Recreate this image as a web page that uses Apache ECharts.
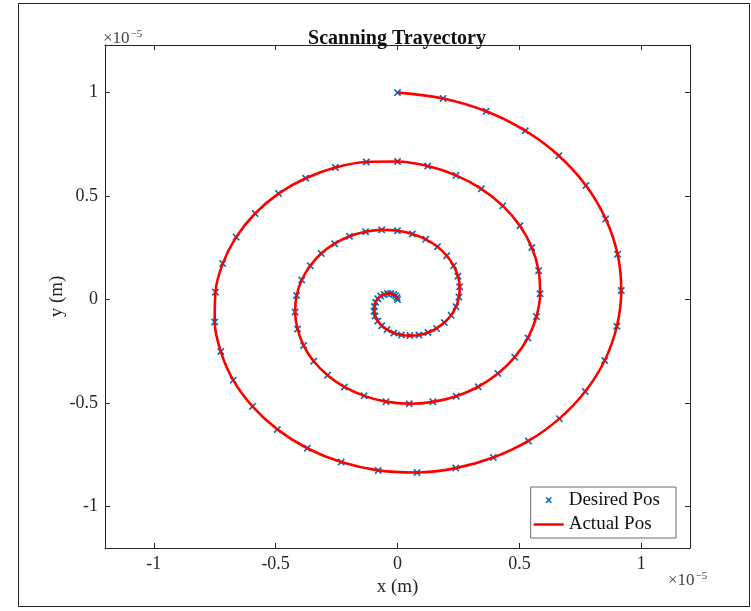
<!DOCTYPE html>
<html>
<head>
<meta charset="utf-8">
<script src="https://cdn.jsdelivr.net/npm/echarts@6/dist/echarts.min.js"></script>
<style>
html,body{margin:0;padding:0;background:#fff;}
#chart{width:751px;height:611px;}
</style>
</head>
<body>
<div id="chart"></div>
<script>
// Values in units of 1e-5 m
const desiredX = [0,0.187,0.364,0.524,0.662,0.773,0.854,0.903,0.918,0.900,0.850,0.770,0.664,0.537,0.393,0.239,0.080,-0.079,-0.231,-0.370,-0.493,-0.595,-0.674,-0.725,-0.750,-0.747,-0.717,-0.662,-0.584,-0.488,-0.377,-0.255,-0.128,
  0,0.124,0.240,0.344,0.432,0.502,0.551,0.579,0.585,0.570,0.535,0.481,0.412,0.331,0.241,0.145,0.048,-0.047,-0.137,-0.218,-0.287,-0.344,-0.385,-0.410,-0.420,-0.414,-0.393,-0.358,-0.313,-0.258,-0.197,-0.131,-0.065,
  0,0.061,0.116,0.164,0.202,0.230,0.248,0.255,0.252,0.240,0.220,0.192,0.160,0.125,0.088,0.051,0.016,-0.015,-0.043,-0.065,-0.081,-0.092,-0.096,-0.095,-0.090,-0.081,-0.069,-0.055,-0.041,-0.028,-0.016,-0.008,-0.002,0];
const desiredY = [1,0.972,0.910,0.816,0.695,0.551,0.390,0.219,0.044,-0.129,-0.294,-0.444,-0.575,-0.683,-0.763,-0.814,-0.835,-0.825,-0.785,-0.718,-0.627,-0.516,-0.389,-0.251,-0.108,0.036,0.174,0.302,0.416,0.512,0.586,0.638,0.665,
  0.667,0.645,0.600,0.535,0.453,0.357,0.252,0.140,0.028,-0.082,-0.185,-0.278,-0.357,-0.421,-0.467,-0.494,-0.503,-0.493,-0.465,-0.422,-0.365,-0.298,-0.222,-0.142,-0.060,0.020,0.095,0.164,0.223,0.270,0.306,0.328,0.337,
  0.333,0.317,0.291,0.255,0.212,0.164,0.113,0.062,0.012,-0.034,-0.076,-0.111,-0.139,-0.159,-0.171,-0.174,-0.171,-0.161,-0.145,-0.126,-0.103,-0.079,-0.056,-0.033,-0.013,0.004,0.017,0.025,0.029,0.029,0.025,0.019,0.010,0];
const actualX = desiredX;
const actualY = desiredY;
const tickValues = [-1, -0.5, 0, 0.5, 1];
const seriesNames = ['Desired Pos', 'Actual Pos'];
const titleText = 'Scanning Trayectory';
const xName = 'x (m)';
const yName = 'y (m)';

const desired = desiredX.map((x, i) => [x, desiredY[i]]);
const actual = actualX.map((x, i) => [x, actualY[i]]);

const FONT = 'Liberation Serif';
const AX = '#262626';
const xMark = 'path://M0,1.6 L1.6,0 L5,3.4 L8.4,0 L10,1.6 L6.6,5 L10,8.4 L8.4,10 L5,6.6 L1.6,10 L0,8.4 L3.4,5 Z';
// legend icons drawn in a 30x10 box (degenerate corner points fix the box)
const legendX = 'path://M0,0 L0,0 Z M30,10 L30,10 Z M11.8,2.6 L12.9,1.5 L15,3.6 L17.1,1.5 L18.2,2.6 L16.1,4.7 L18.2,6.8 L17.1,7.9 L15,5.8 L12.9,7.9 L11.8,6.8 L13.9,4.7 Z';
const legendLine = 'path://M0,0 L0,0 Z M30,10 L30,10 Z M0,3.7 L30,3.7 L30,6.3 L0,6.3 Z';

const baseAxis = {
  type: 'value', min: -1.2, splitLine: {show: false},
  axisLine: {show: true, onZero: false, lineStyle: {color: AX, width: 1}},
  axisTick: {show: true, inside: true, length: 5, customValues: tickValues, lineStyle: {color: AX}},
  axisLabel: {show: true, customValues: tickValues, fontFamily: FONT, fontSize: 18, color: '#262626', margin: 7,
    formatter: v => String(v)},
};

const chart = echarts.init(document.getElementById('chart'), null, {renderer: 'canvas'});
chart.setOption({
  animation: false,
  backgroundColor: '#fff',
  title: {text: titleText, left: 392, top: 24, textAlign: 'center',
    textStyle: {fontFamily: FONT, fontSize: 20, fontWeight: 'bold', color: '#111'}},
  grid: {left: 105, right: 61, top: 45, bottom: 63, containLabel: false},
  xAxis: [
    Object.assign({}, baseAxis, {max: 1.2, position: 'bottom', name: xName, nameLocation: 'middle', nameGap: 30,
      nameMoveOverlap: false, nameTextStyle: {fontFamily: FONT, fontSize: 19, color: '#262626'}}),
    Object.assign({}, baseAxis, {max: 1.2, position: 'top', axisLabel: {show: false}})
  ],
  yAxis: [
    Object.assign({}, baseAxis, {max: 1.23, position: 'left', name: yName, nameLocation: 'middle', nameGap: 38, nameRotate: 90,
      nameMoveOverlap: false, nameTextStyle: {fontFamily: FONT, fontSize: 19, color: '#262626'}}),
    Object.assign({}, baseAxis, {max: 1.23, position: 'right', axisLabel: {show: false}})
  ],
  legend: {
    orient: 'vertical', right: 75, bottom: 73,
    backgroundColor: '#fff', borderColor: '#6a6a6a', borderWidth: 1, borderRadius: 0,
    padding: [4, 16, 4, 3], itemGap: 5, itemWidth: 30, itemHeight: 10,
    textStyle: {fontFamily: FONT, fontSize: 19, color: '#111'},
    data: [{name: seriesNames[0], icon: legendX}, {name: seriesNames[1], icon: legendLine}]
  },
  series: [
    {name: seriesNames[0], type: 'scatter', data: desired, symbol: xMark, symbolSize: 7.5,
      itemStyle: {color: '#0072BD', opacity: 1}, z: 2},
    {name: seriesNames[1], type: 'line', data: actual, smooth: 0.35, symbol: 'none', showSymbol: false,
      lineStyle: {color: '#FF0000', width: 2.6}, itemStyle: {color: '#FF0000'}, z: 3}
  ],
  graphic: [
    {type: 'rect', shape: {x: 18.5, y: 3.5, width: 731, height: 603}, style: {fill: 'none', stroke: '#222', lineWidth: 1}, silent: true, z: -1},
    {type: 'text', left: 103, top: 29, style: {text: '{a|×10}{b|−5}', rich: {a: {fontFamily: FONT, fontSize: 17, fill: '#444'}, b: {fontFamily: FONT, fontSize: 11, fill: '#444', verticalAlign: 'top', padding: [0,0,9,1]}}}},
    {type: 'text', left: 668, top: 571, style: {text: '{a|×10}{b|−5}', rich: {a: {fontFamily: FONT, fontSize: 17, fill: '#444'}, b: {fontFamily: FONT, fontSize: 11, fill: '#444', verticalAlign: 'top', padding: [0,0,9,1]}}}}
  ]
});
</script>
</body>
</html>
